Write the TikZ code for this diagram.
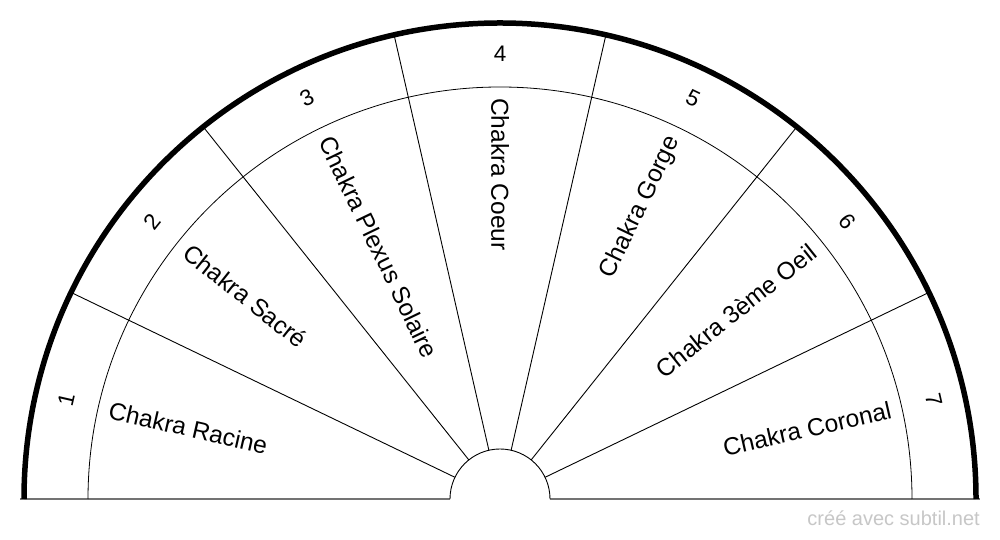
\documentclass[tikz,border=0pt]{standalone}
\usepackage{fontspec}
\setmainfont{Liberation Sans}
\usetikzlibrary{calc}
\begin{document}
\begin{tikzpicture}[x=1pt,y=1pt,
  thinline/.style={black,line width=0.9pt},
  ringline/.style={black,line width=0.8pt},
  baseline/.style={draw=black!55,line width=1.6pt},
  outerarc/.style={black,line width=5.5pt},
  chakralabel/.style={inner sep=0pt,font=\fontsize{24.5}{29}\selectfont},
  numlabel/.style={inner sep=0pt,font=\fontsize{22.5}{26}\selectfont},
  footer/.style={inner sep=0pt,text=black!22,font=\fontsize{20}{24}\selectfont}]
\useasboundingbox (0,0) rectangle (1000,540);
\fill[white] (0,0) rectangle (1000,540);
\coordinate (c) at (500,41);
% baseline
\draw[baseline] (20,41) -- (450,41);
\draw[baseline] (550,41) -- (980,41);
% sector lines
\foreach \k in {1,...,6}{
  \pgfmathsetmacro{\ang}{180-\k*180/7}
  \draw[thinline] ($(c)+(\ang:50)$) -- ($(c)+(\ang:476)$);
}
% inner ring and center circle
\draw[ringline] ($(c)+(412,0)$) arc[start angle=0,end angle=180,radius=412];
\draw[thinline] ($(c)+(50,0)$) arc[start angle=0,end angle=180,radius=50];
% outer arc
\draw[outerarc] ($(c)+(476,0)$) arc[start angle=0,end angle=180,radius=476];
% numbers
\foreach \i in {1,...,7}{
  \pgfmathsetmacro{\ang}{180-(\i-0.5)*180/7}
  \node[numlabel,rotate=\ang-90] (n\i) at ($(c)+(\ang:445)$) {\i};
}
% labels
\foreach \i/\t in {1/Chakra Racine,2/Chakra Sacré,3/Chakra Plexus Solaire,4/Chakra Coeur}{
  \pgfmathsetmacro{\ang}{180-(\i-0.5)*180/7}
  \node[chakralabel,rotate=\ang-180,anchor=west] (l\i) at ($(c)+(\ang:401)$) {\t};
}
\foreach \i/\t in {5/Chakra Gorge,6/Chakra 3ème Oeil,7/Chakra Coronal}{
  \pgfmathsetmacro{\ang}{180-(\i-0.5)*180/7}
  \node[chakralabel,rotate=\ang,anchor=east] (l\i) at ($(c)+(\ang:401)$) {\t};
}
\node[footer,anchor=base east] (foot) at (980,14) {créé avec subtil.net};
\end{tikzpicture}
\end{document}
